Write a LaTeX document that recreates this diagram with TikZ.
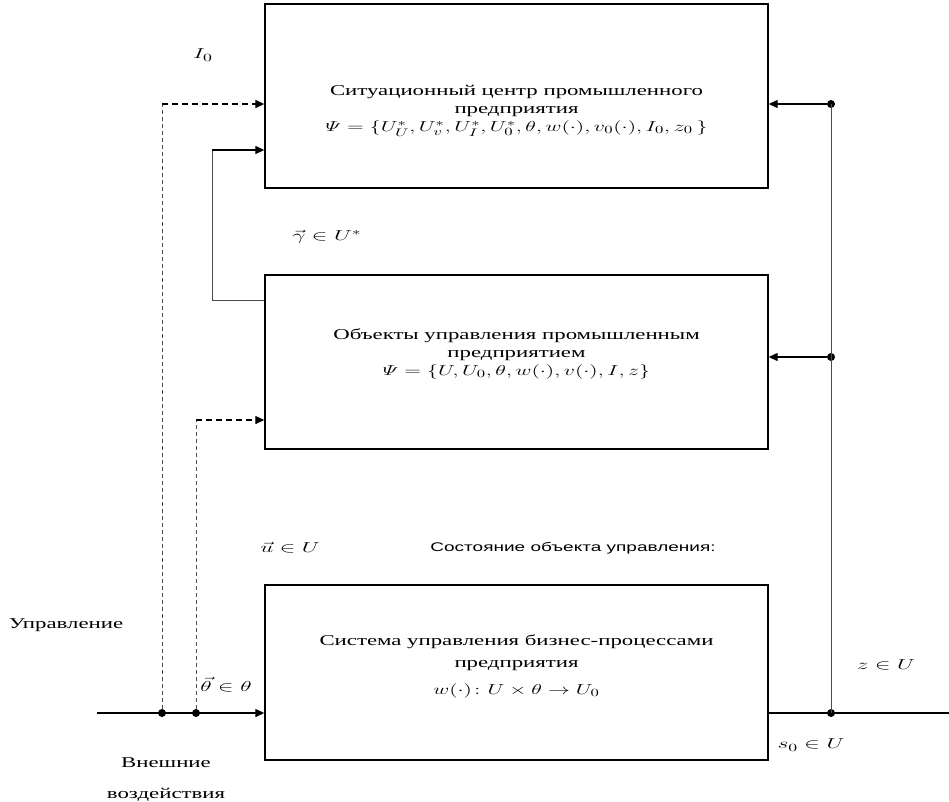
\documentclass[tikz,border=0pt]{standalone}
\usepackage{amsmath}
\usepackage{fontspec}
\setmainfont{Liberation Serif}
\setsansfont{Liberation Sans}
\usetikzlibrary{arrows.meta,calc}
\newcommand{\wide}[1]{\scalebox{1.52}[1]{#1}}
\newcommand{\widemath}[1]{\scalebox{1.62}[1]{#1}}

\begin{document}
\begin{tikzpicture}[
  x=1pt, y=-1pt,
  font=\fontsize{15}{18}\selectfont,
  block/.style={draw, line width=1.4pt, minimum width=503pt},
  inside/.style={align=center, inner sep=0pt},
  arrow/.style={-{Triangle[length=9pt,width=8pt]}, line width=1.3pt},
  dasharrow/.style={-{Triangle[length=9pt,width=8pt]}, line width=1.3pt, dash pattern=on 6pt off 4pt},
  fine/.style={line width=0.8pt, draw=black!70},
  finedash/.style={line width=0.8pt, draw=black!70, dash pattern=on 4pt off 3pt},
  dot/.style={circle, fill, inner sep=0pt, minimum size=8pt},
  lbl/.style={inner sep=1pt}
]
\useasboundingbox (0,0) rectangle (949,801);

% blocks
\node[block, minimum height=184pt] (sit) at (516.5,96) {};
\node[block, minimum height=174pt] (obj) at (516.5,362) {};
\node[block, minimum height=175pt] (sys) at (516.5,672.5) {};

\node[inside] (sitT) at (516.5,110) {\wide{\begin{tabular}{@{}c@{}}
  Ситуационный центр промышленного\\предприятия\\
  $\varPsi=\{U_U^*,U_v^*,U_I^*,U_0^*,\theta,w(\cdot),v_0(\cdot),I_0,z_0\,\}$\end{tabular}}};
\node[inside] (objT) at (516.5,354) {\wide{\begin{tabular}{@{}c@{}}
  Объекты управления промышленным\\предприятием\\
  $\varPsi=\{U,U_0,\theta,w(\cdot),v(\cdot),I,z\}$\end{tabular}}};
\node[inside] (sysT) at (516.5,666) {\wide{\begin{tabular}{@{}c@{}}
  Система управления бизнес-процессами\\[4pt]предприятия\\[9pt]
  $w(\cdot)\colon U\times\theta\to U_0$\end{tabular}}};

% points on the lines
\coordinate (in) at (97,713);
\node[dot] (d1) at (162,713) {};
\node[dot] (d2) at (196,713) {};
\node[dot] (r3) at (831,713) {};
\node[dot] (r2) at (831,357) {};
\node[dot] (r1) at (831,104) {};
\coordinate (out) at (958,713);
\coordinate (fb) at (212,300);
\coordinate (fc) at (212,150);

% input and output
\draw[arrow] (in) -- (sys.west |- in);
\draw[arrow] (sys.east |- out) -- (out);

% state feedback on the right
\draw[fine] (r3.center) -- (r1.center);
\draw[arrow] (r1) -- (sit.east |- r1);
\draw[arrow] (r2) -- (obj.east |- r2);

% control feedback
\draw[fine] (obj.west |- fb) -- (fb) -- (fc);
\draw[arrow] (fc) -- (sit.west |- fc);

% external disturbances
\draw[finedash] (d1) -- (d1 |- r1);
\draw[dasharrow] (d1 |- r1) -- (sit.west |- r1);
\draw[finedash] (d2) -- (d2 |- 0,420);
\draw[dasharrow] (d2 |- 0,420) -- (obj.west |- 0,420);

% labels
\node[lbl] (li) at (203,55) {\widemath{$I_0$}};
\node[lbl] (lg) at (327,237) {\widemath{$\vec{\gamma}\in U^*$}};
\node[lbl] (lu) at (290,548) {\widemath{$\vec{u}\in U$}};
\node[lbl, font=\sffamily\fontsize{12.5}{15}\selectfont] (ls) at (573,548) {\wide{Состояние объекта управления:}};
\node[lbl] (lc) at (66,625) {\wide{Управление}};
\node[lbl] (lt) at (226,685) {\widemath{$\vec{\theta}\in\theta$}};
\node[lbl] (le) at (166,779) {\wide{\begin{tabular}{@{}c@{}}Внешние\\[13pt]воздействия\end{tabular}}};
\node[lbl] (lz) at (886,665) {\widemath{$z\in U$}};
\node[lbl] (lo) at (811,745) {\widemath{$s_0\in U$}};
\end{tikzpicture}
\end{document}
